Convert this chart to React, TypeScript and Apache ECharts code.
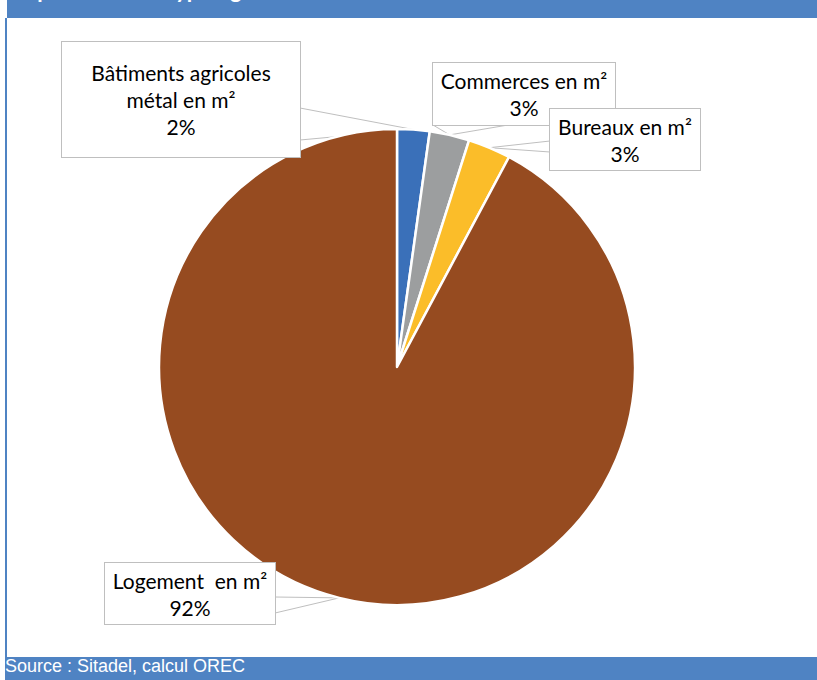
import React, { useEffect, useRef } from "react";
import * as echarts from "echarts";

// ---- data ----
const categories = [
  "Bâtiments agricoles\nmétal en m²",
  "Commerces en m²",
  "Bureaux en m²",
  "Logement  en m²",
];
const shares = [2.2, 2.7, 2.9, 92.2];
const sliceColors = ["#3A70B9", "#9C9E9F", "#FBBD29", "#964B20"];
const titleText = "Répartition des typologies";
const sourceText = "Source : Sitadel, calcul OREC";

// ---- layout (label boxes and callout anchors) ----
const boxes = [
  { x: 62, y: 42, w: 238, pad: 17, a: [300, 108], b: [300, 140] },
  { x: 433, y: 63, w: 182, pad: 4, a: [433, 125], b: [508, 125] },
  { x: 550, y: 109, w: 150, pad: 3.5, a: [550, 141], b: [550, 152] },
  { x: 105, y: 563, w: 170, pad: 3.5, a: [275, 597], b: [275, 613] },
];
const LINE_H = 27;
const BLUE = "#4F83C3";

export default function App() {
  const ref = useRef<HTMLDivElement>(null);
  useEffect(() => {
    if (!ref.current) return;
    const chart = echarts.init(ref.current, undefined, { renderer: "svg" });
    const data = categories.map((name, i) => ({
      name,
      value: shares[i],
      itemStyle: { color: sliceColors[i] },
      label: { width: boxes[i].w, padding: [boxes[i].pad, 0, boxes[i].pad, 0] },
    }));
    chart.setOption({
      animation: false,
      backgroundColor: "#ffffff",
      graphic: [
        { type: "rect", shape: { x: 7, y: 0, width: 810, height: 18 }, style: { fill: BLUE }, z: 1 },
        {
          type: "text",
          x: 12,
          y: 0,
          style: {
            text: titleText,
            fill: "#ffffff",
            font: "bold 22px Lato",
            verticalAlign: "bottom",
            align: "left",
          },
          z: 2,
        },
        { type: "rect", shape: { x: 5, y: 18, width: 2, height: 640 }, style: { fill: BLUE }, z: 1 },
        { type: "rect", shape: { x: 5, y: 657, width: 812, height: 23 }, style: { fill: BLUE }, z: 1 },
        {
          type: "text",
          x: 5,
          y: 666,
          style: {
            text: sourceText,
            fill: "#ffffff",
            font: "18px 'Liberation Sans'",
            verticalAlign: "middle",
            align: "left",
          },
          z: 2,
        },
      ],
      series: [
        {
          type: "pie",
          center: [397, 367],
          radius: 238,
          startAngle: 90,
          clockwise: true,
          avoidLabelOverlap: false,
          emphasis: { disabled: true },
          itemStyle: { borderColor: "#ffffff", borderWidth: 2.5 },
          label: {
            show: true,
            position: "outside",
            formatter: (p: any) => `${p.name}\n${Math.round(p.percent)}%`,
            fontFamily: "Lato",
            fontSize: 21,
            lineHeight: LINE_H,
            color: "#000000",
            backgroundColor: "#ffffff",
            borderColor: "#BFBFBF",
            borderWidth: 1,
            align: "center",
          },
          labelLine: {
            show: true,
            smooth: false,
            lineStyle: { color: "#BFBFBF", width: 1 },
          },
          labelLayout: (params: any) => {
            const bx = boxes[params.dataIndex];
            const pts = params.labelLinePoints;
            const p = pts && pts[0] ? pts[0] : bx.a;
            return {
              x: bx.x + bx.w / 2,
              y: bx.y,
              align: "center",
              verticalAlign: "top",
              labelLinePoints: [bx.a, p, bx.b],
            };
          },
          data,
        },
      ],
    });
    return () => chart.dispose();
  }, []);
  return (
    <div
      ref={ref}
      style={{ position: "fixed", left: 0, top: 0, width: 817, height: 680 }}
    />
  );
}
